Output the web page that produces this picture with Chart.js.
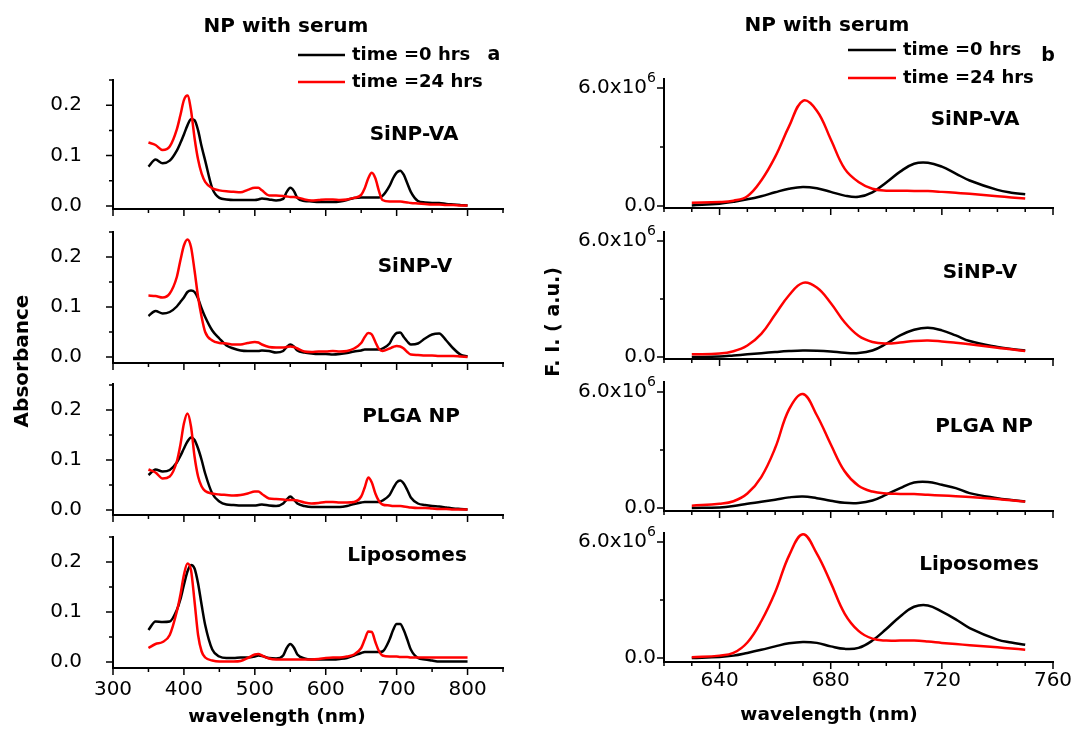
<!DOCTYPE html>
<html lang="en">
<head>
  <meta charset="UTF-8">
  <title>NP with serum</title>
  <script src="https://cdn.jsdelivr.net/npm/chart.js"></script>
  <style>
    body { margin: 0; background: #fff; }
    #wrap { position: relative; width: 1074px; height: 730px; }
    #wrap canvas { position: absolute; top: 0; }
  </style>
</head>
<body>
  <div id="wrap">
    <canvas id="L1" width="520" height="730" style="left:0"></canvas>
    <canvas id="L2" width="520" height="730" style="left:0"></canvas>
    <canvas id="L3" width="520" height="730" style="left:0"></canvas>
    <canvas id="L4" width="520" height="730" style="left:0"></canvas>
    <canvas id="R1" width="554" height="730" style="left:520px"></canvas>
    <canvas id="R2" width="554" height="730" style="left:520px"></canvas>
    <canvas id="R3" width="554" height="730" style="left:520px"></canvas>
    <canvas id="R4" width="554" height="730" style="left:520px"></canvas>
  </div>

  <script>
    // ---- data ----
    // (a) absorbance, wavelength in nm
    const absWavelength = [350,360,370,380,390,395,400,405,410,415,420,425,430,440,450,460,470,480,490,500,505,510,520,530,540,545,550,555,560,570,580,590,600,610,620,630,640,650,655,660,665,670,675,680,690,695,700,705,710,715,720,730,740,750,760,770,780,790,800];

    const absVA0 = [0.078,0.092,0.085,0.09,0.11, 0.125,0.142,0.16,0.172,0.17,0.15,0.118,0.09, 0.035,0.016,0.013,0.012,0.012,0.012,0.012, 0.013,0.015, 0.013,0.011,0.014, 0.028,0.036,0.03,0.016, 0.01,0.009,0.008,0.008,0.008,0.009,0.012,0.016,0.017, 0.017,0.017,0.017,0.017,0.017,0.02, 0.04,0.055,0.066,0.07,0.062,0.045,0.028, 0.01,0.007,0.006,0.006,0.004,0.003,0.002,0.001];
    const absVA24 = [0.126,0.121,0.111,0.118,0.152, 0.18,0.21,0.219,0.19,0.135,0.092,0.064,0.048, 0.035,0.031,0.029,0.028,0.027,0.032,0.036, 0.036,0.031, 0.021,0.021,0.02, 0.019,0.018,0.018,0.017, 0.013,0.011,0.012,0.013,0.013,0.012,0.013,0.016,0.022, 0.035,0.055,0.066,0.055,0.03,0.012, 0.009,0.009,0.009,0.009,0.008,0.007,0.006, 0.005,0.004,0.003,0.003,0.002,0.002,0.001,0.001];

    const absV0 = [0.082,0.092,0.087,0.09,0.101, 0.11,0.119,0.13,0.133,0.13,0.117,0.097,0.08, 0.053,0.037,0.023,0.017,0.013,0.012,0.012, 0.012,0.013, 0.012,0.009,0.012, 0.02,0.025,0.021,0.013, 0.009,0.007,0.006,0.006,0.005,0.006,0.008,0.011,0.013, 0.015,0.015,0.015,0.015,0.015,0.017, 0.027,0.04,0.048,0.049,0.04,0.031,0.025, 0.027,0.037,0.045,0.047,0.033,0.017,0.005,0.001];
    const absV24 = [0.123,0.122,0.119,0.127,0.16, 0.193,0.223,0.235,0.22,0.173,0.12,0.08,0.05, 0.033,0.028,0.027,0.025,0.025,0.028,0.03, 0.029,0.025, 0.02,0.019,0.019, 0.02,0.021,0.02,0.017, 0.011,0.01,0.011,0.011,0.012,0.011,0.012,0.017,0.028, 0.04,0.048,0.045,0.03,0.016,0.012, 0.017,0.02,0.022,0.021,0.017,0.01,0.005, 0.004,0.003,0.003,0.002,0.002,0.002,0.001,0.0];

    const absPLGA0 = [0.07,0.081,0.077,0.08,0.095, 0.108,0.123,0.137,0.145,0.14,0.123,0.1,0.073, 0.033,0.017,0.011,0.01,0.009,0.009,0.009, 0.01,0.011, 0.009,0.008,0.013, 0.021,0.027,0.021,0.013, 0.008,0.006,0.006,0.006,0.006,0.006,0.008,0.012,0.015, 0.016,0.016,0.016,0.016,0.016,0.019, 0.03,0.043,0.055,0.059,0.053,0.04,0.025, 0.013,0.01,0.008,0.007,0.005,0.003,0.002,0.001];
    const absPLGA24 = [0.081,0.075,0.063,0.067,0.097, 0.13,0.173,0.193,0.167,0.107,0.067,0.047,0.038, 0.033,0.031,0.03,0.029,0.03,0.033,0.037, 0.037,0.032, 0.023,0.022,0.021, 0.02,0.02,0.02,0.019, 0.015,0.013,0.014,0.016,0.016,0.015,0.015,0.016,0.027, 0.045,0.065,0.055,0.033,0.018,0.011, 0.009,0.008,0.008,0.008,0.007,0.006,0.005, 0.004,0.004,0.003,0.002,0.002,0.001,0.001,0.001];

    const absLipo0 = [0.064,0.081,0.08,0.081,0.104, 0.125,0.154,0.181,0.194,0.187,0.157,0.114,0.074, 0.025,0.011,0.008,0.008,0.009,0.009,0.011, 0.013,0.012, 0.008,0.007,0.013, 0.028,0.036,0.029,0.015, 0.007,0.005,0.005,0.005,0.005,0.006,0.008,0.013,0.018, 0.02,0.02,0.02,0.02,0.02,0.021, 0.045,0.064,0.076,0.076,0.064,0.045,0.025, 0.008,0.005,0.003,0.001,0.001,0.001,0.001,0.001];
    const absLipo24 = [0.028,0.036,0.04,0.054,0.101, 0.134,0.174,0.197,0.184,0.121,0.054,0.021,0.009, 0.003,0.001,0.001,0.001,0.002,0.008,0.015, 0.016,0.013, 0.007,0.005,0.005, 0.005,0.005,0.005,0.005, 0.005,0.005,0.006,0.008,0.009,0.009,0.011,0.015,0.028, 0.045,0.061,0.06,0.04,0.022,0.013, 0.011,0.011,0.011,0.01,0.01,0.01,0.009, 0.009,0.009,0.009,0.009,0.009,0.009,0.009,0.009];

    // (b) fluorescence intensity, values in units of 1e6
    const flWavelength = [630,640,645,650,655,660,665,670,675,680,685,690,695,700,705,710,715,720,725,730,740,745,750];
    const FL_UNIT = 1e6;

    const flVA0 = [0.03,0.12,0.22,0.34,0.5,0.7,0.88,0.97,0.9,0.72,0.53,0.47,0.7,1.2,1.75,2.15,2.2,2.0,1.65,1.3,0.82,0.68,0.6];
    const flVA24 = [0.17,0.2,0.27,0.5,1.3,2.5,4.05,5.35,4.85,3.4,1.9,1.22,0.88,0.78,0.78,0.77,0.76,0.72,0.67,0.62,0.5,0.44,0.38];
    const flV0 = [0.0,0.03,0.08,0.14,0.2,0.26,0.31,0.34,0.33,0.29,0.22,0.21,0.34,0.69,1.12,1.41,1.52,1.38,1.12,0.83,0.52,0.42,0.34];
    const flV24 = [0.14,0.18,0.3,0.6,1.2,2.2,3.2,3.84,3.6,2.8,1.8,1.1,0.78,0.7,0.75,0.83,0.86,0.81,0.74,0.66,0.48,0.4,0.31];
    const flPLGA0 = [0.0,0.03,0.1,0.22,0.32,0.43,0.55,0.6,0.51,0.38,0.27,0.26,0.39,0.69,1.03,1.32,1.35,1.2,1.03,0.77,0.51,0.42,0.34];
    const flPLGA24 = [0.12,0.22,0.35,0.75,1.6,3.1,5.1,5.9,4.8,3.3,1.9,1.15,0.85,0.75,0.73,0.72,0.68,0.65,0.61,0.57,0.46,0.4,0.33];
    const flLipo0 = [0.0,0.05,0.12,0.26,0.42,0.6,0.76,0.83,0.78,0.6,0.47,0.52,0.9,1.5,2.15,2.65,2.72,2.4,2.0,1.55,0.95,0.8,0.68];
    const flLipo24 = [0.03,0.12,0.26,0.8,1.9,3.4,5.3,6.4,5.4,3.9,2.3,1.4,1.0,0.9,0.9,0.9,0.85,0.78,0.72,0.66,0.55,0.49,0.43];

    const seriesLabels = ['time =0 hrs', 'time =24 hrs'];
    const sampleNames = ['SiNP-VA', 'SiNP-V', 'PLGA NP', 'Liposomes'];

    // ---- layout ----
    const H = 730;
    const FONT = '"DejaVu Sans", "Liberation Sans", Arial, sans-serif';
    Chart.defaults.font.family = FONT;
    Chart.defaults.color = '#000';

    const leftCol = {
      width: 520, plotLeft: 113, plotRight: 503,
      xMin: 300, xMax: 850, xStep: 50, xMajor: 100, xLabelMax: 800, xLabelY: 690,
      yStep: 0.05, yMajor: 0.1, yLabelRight: 82,
      yLabel: v => [v.toFixed(1), ''],
      line: { cubicInterpolationMode: 'monotone' }
    };
    const rightCol = {
      width: 554, plotLeft: 144, plotRight: 533,
      xMin: 620, xMax: 760, xStep: 10, xMajor: 40, xLabelMax: 760, xLabelY: 681,
      yStep: 3e6, yMajor: 6e6, yLabelRight: 136,
      yLabel: v => v === 0 ? ['0.0', ''] : [(v / 1e6).toFixed(1) + 'x10', '6'],
      line: { tension: 0.4 }
    };

    const leftPanels = [
      { id: 'L1', y0: absVA0, y24: absVA24, top: 80, bottom: 209, min: -0.006, max: 0.25, lx: 414, ly: 135 },
      { id: 'L2', y0: absV0, y24: absV24, top: 232, bottom: 363, min: -0.012, max: 0.25, lx: 415, ly: 267 },
      { id: 'L3', y0: absPLGA0, y24: absPLGA24, top: 384, bottom: 515, min: -0.01, max: 0.252, lx: 411, ly: 417 },
      { id: 'L4', y0: absLipo0, y24: absLipo24, top: 537, bottom: 668, min: -0.012, max: 0.25, lx: 407, ly: 556 }
    ];
    const rightPanels = [
      { id: 'R1', y0: flVA0, y24: flVA24, top: 79, bottom: 208, min: -0.1e6, max: 6.46e6, lx: 455, ly: 120 },
      { id: 'R2', y0: flV0, y24: flV24, top: 232, bottom: 359, min: -0.1e6, max: 6.47e6, lx: 460, ly: 273 },
      { id: 'R3', y0: flPLGA0, y24: flPLGA24, top: 382, bottom: 511, min: -0.155e6, max: 6.52e6, lx: 464, ly: 427 },
      { id: 'R4', y0: flLipo0, y24: flLipo24, top: 533, bottom: 662, min: -0.21e6, max: 6.47e6, lx: 459, ly: 565 }
    ];

    function isMajor(v, step) {
      const r = v / step;
      return Math.abs(r - Math.round(r)) < 1e-6;
    }

    // every multiple of step inside [min, max]
    function stepTicks(min, max, step) {
      const out = [];
      for (let k = Math.ceil(min / step - 1e-9); k * step <= max + 1e-9 * step; k++) {
        out.push({ value: Math.round(k * step * 1e6) / 1e6 });
      }
      return out;
    }

    // outward tick marks (long on labelled values) and the tick labels
    function axisMarks(col, showX) {
      return {
        id: 'axisMarks',
        afterDraw(chart) {
          const ctx = chart.ctx;
          const x = chart.scales.x, y = chart.scales.y;
          ctx.save();
          ctx.strokeStyle = '#000';
          ctx.fillStyle = '#000';
          ctx.lineWidth = 1.5;
          ctx.beginPath();
          x.ticks.forEach(t => {
            const px = x.getPixelForValue(t.value);
            const len = isMajor(t.value, col.xMajor) ? 7 : 4;
            ctx.moveTo(px, x.top);
            ctx.lineTo(px, x.top + len);
          });
          y.ticks.forEach(t => {
            const py = y.getPixelForValue(t.value);
            const len = isMajor(t.value, col.yMajor) ? 7 : 4;
            ctx.moveTo(y.right, py);
            ctx.lineTo(y.right - len, py);
          });
          ctx.stroke();

          ctx.textBaseline = 'middle';
          ctx.font = '20px ' + FONT;
          if (showX) {
            ctx.textAlign = 'center';
            x.ticks.forEach(t => {
              if (isMajor(t.value, col.xMajor) && t.value <= col.xLabelMax) {
                ctx.fillText(String(t.value), x.getPixelForValue(t.value), col.xLabelY);
              }
            });
          }
          y.ticks.forEach(t => {
            if (!isMajor(t.value, col.yMajor)) return;
            const py = y.getPixelForValue(t.value);
            const parts = col.yLabel(t.value);
            let right = col.yLabelRight;
            if (parts[1]) {
              ctx.font = '14px ' + FONT;
              const w = ctx.measureText(parts[1]).width;
              ctx.textAlign = 'left';
              ctx.fillText(parts[1], right - w, py - 10);
              right -= w;
              ctx.font = '20px ' + FONT;
            }
            ctx.textAlign = 'right';
            ctx.fillText(parts[0], right, py);
          });
          ctx.restore();
        }
      };
    }

    // free text + legend drawn on the canvas
    function notes(texts, legend) {
      return {
        id: 'notes',
        afterDraw(chart) {
          const ctx = chart.ctx;
          ctx.save();
          ctx.fillStyle = '#000';
          ctx.textBaseline = 'middle';
          texts.forEach(t => {
            ctx.save();
            ctx.font = t.font;
            ctx.textAlign = t.align || 'center';
            ctx.translate(t.x, t.y);
            if (t.rotate) ctx.rotate(t.rotate);
            ctx.fillText(t.text, 0, 0);
            ctx.restore();
          });
          if (legend) {
            chart.data.datasets.forEach((ds, i) => {
              const yy = legend.rows[i];
              ctx.strokeStyle = ds.borderColor;
              ctx.lineWidth = ds.borderWidth;
              ctx.beginPath();
              ctx.moveTo(legend.x0, yy);
              ctx.lineTo(legend.x1, yy);
              ctx.stroke();
              ctx.font = legend.font;
              ctx.textAlign = 'left';
              ctx.fillText(ds.label, legend.tx, yy);
            });
          }
          ctx.restore();
        }
      };
    }

    function makePanel(p, col, xs, unit, isBottom, texts, legend) {
      const pts = ys => xs.map((x, i) => ({ x: x, y: ys[i] * unit }));
      return new Chart(document.getElementById(p.id), {
        type: 'line',
        data: {
          datasets: [
            { label: seriesLabels[0], data: pts(p.y0), borderColor: '#000000', borderWidth: 2.5, order: 1 },
            { label: seriesLabels[1], data: pts(p.y24), borderColor: '#ff0000', borderWidth: 2.5, order: 0 }
          ]
        },
        options: {
          responsive: false,
          animation: false,
          events: [],
          layout: { padding: { left: 0, right: col.width - col.plotRight, top: p.top, bottom: H - p.bottom } },
          plugins: { legend: { display: false }, tooltip: { enabled: false } },
          elements: {
            point: { radius: 0 },
            line: Object.assign({ fill: false }, col.line)
          },
          scales: {
            x: {
              type: 'linear',
              min: col.xMin, max: col.xMax,
              afterBuildTicks: s => { s.ticks = stepTicks(col.xMin, col.xMax, col.xStep); },
              afterFit: s => { s.height = 0; },
              grid: { drawOnChartArea: false, drawTicks: false },
              border: { color: '#000', width: 2 },
              ticks: { display: false, autoSkip: false, maxRotation: 0 }
            },
            y: {
              type: 'linear',
              min: p.min, max: p.max,
              afterBuildTicks: s => { s.ticks = stepTicks(p.min, p.max, col.yStep); },
              afterFit: s => { s.width = col.plotLeft; },
              grid: { drawOnChartArea: false, drawTicks: false },
              border: { color: '#000', width: 2 },
              ticks: { display: false, autoSkip: false }
            }
          }
        },
        plugins: [axisMarks(col, isBottom), notes(texts, legend)]
      });
    }

    const boldFont = size => 'bold ' + size + 'px ' + FONT;

    // absorbance column
    leftPanels.forEach((p, i) => {
      const texts = [{ text: sampleNames[i], x: p.lx, y: p.ly, font: boldFont(20) }];
      let legend = null;
      if (i === 0) {
        texts.push({ text: 'NP with serum', x: 286, y: 27, font: boldFont(20) });
        texts.push({ text: 'a', x: 494, y: 55, font: boldFont(19) });
        texts.push({ text: 'Absorbance', x: 23, y: 361, rotate: -Math.PI / 2, font: boldFont(20) });
        legend = { x0: 298, x1: 345, tx: 352, rows: [55, 82], font: boldFont(18) };
      }
      if (i === 3) {
        texts.push({ text: 'wavelength (nm)', x: 277, y: 717, font: boldFont(18.5) });
      }
      makePanel(p, leftCol, absWavelength, 1, i === 3, texts, legend);
    });

    // fluorescence column
    rightPanels.forEach((p, i) => {
      const texts = [{ text: sampleNames[i], x: p.lx, y: p.ly, font: boldFont(20) }];
      let legend = null;
      if (i === 0) {
        texts.push({ text: 'NP with serum', x: 307, y: 26, font: boldFont(20) });
        texts.push({ text: 'b', x: 528, y: 56, font: boldFont(19) });
        texts.push({ text: 'F. I. ( a.u.)', x: 34, y: 322, rotate: -Math.PI / 2, font: boldFont(19) });
        legend = { x0: 328, x1: 376, tx: 383, rows: [50, 78], font: boldFont(18) };
      }
      if (i === 3) {
        texts.push({ text: 'wavelength (nm)', x: 309, y: 715, font: boldFont(18.5) });
      }
      makePanel(p, rightCol, flWavelength, FL_UNIT, i === 3, texts, legend);
    });
  </script>
</body>
</html>
